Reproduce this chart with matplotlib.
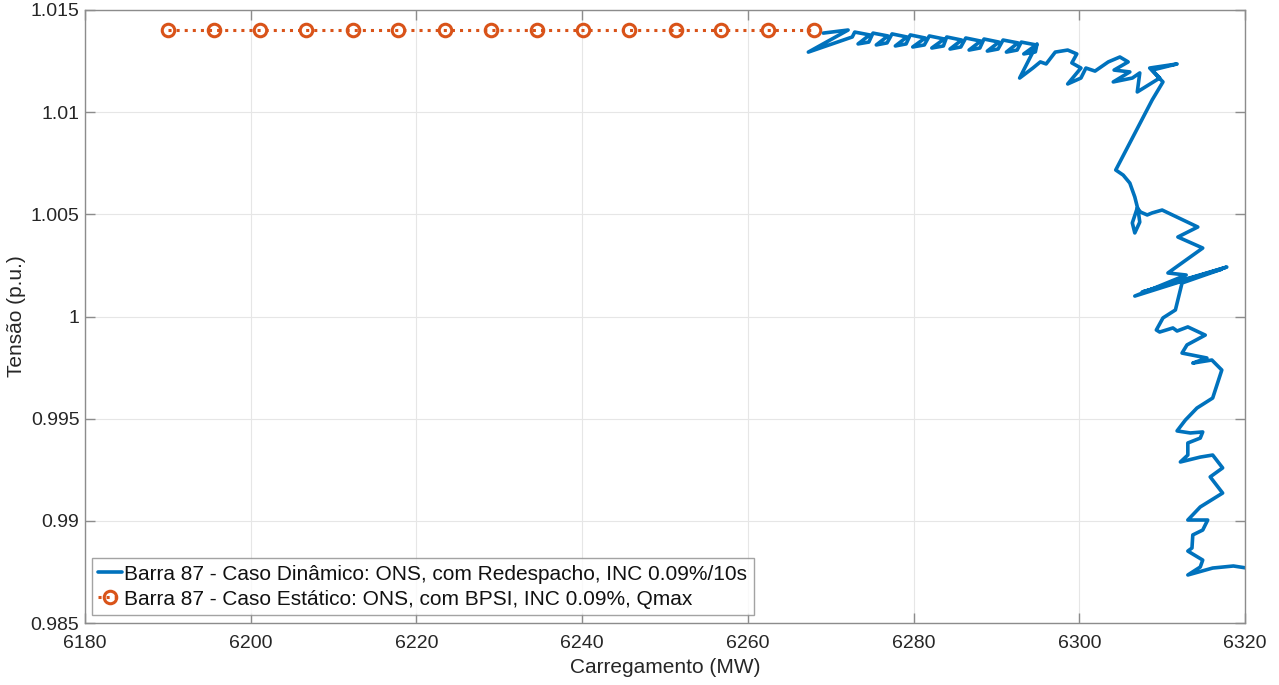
import matplotlib
matplotlib.use("Agg")
import matplotlib.pyplot as plt
from matplotlib.ticker import FuncFormatter

plt.rcParams['font.family'] = ['Liberation Sans', 'DejaVu Sans']

# Static case (continuation power flow): load steps and bus voltage
static_load = [6190.0, 6195.6, 6201.1, 6206.7, 6212.3, 6217.8, 6223.4, 6229.0,
               6234.6, 6240.1, 6245.7, 6251.3, 6256.8, 6262.4, 6268.0]
static_volt = [1.014] * 15

# Dynamic case (time simulation with redispatch): load vs. bus voltage trajectory
dyn_load = [
    6269.1, 6272.1, 6267.3, 6272.6,
    6272.9, 6274.7, 6273.3, 6274.6,
    6275.1, 6276.9, 6275.5, 6276.8,
    6277.4, 6279.2, 6277.8, 6279.1,
    6279.6, 6281.4, 6279.9, 6281.3,
    6281.9, 6283.7, 6282.2, 6283.6,
    6284.0, 6285.8, 6284.4, 6285.7,
    6286.3, 6288.1, 6286.7, 6288.0,
    6288.5, 6290.3, 6288.9, 6290.2,
    6290.8, 6292.6, 6291.2, 6292.5,
    6293.0, 6294.8, 6293.3, 6294.7,
    6294.9, 6292.8, 6294.4, 6295.3, 6296.0, 6297.1, 6298.6, 6299.7,
    6299.1, 6300.2, 6298.6, 6300.2, 6300.8, 6301.9, 6303.5, 6304.9,
    6305.9, 6304.2, 6306.1, 6304.1, 6306.4, 6307.3, 6307.0, 6309.7,
    6308.8, 6311.8, 6308.5, 6310.1, 6308.8, 6304.4,
    6305.3, 6306.1, 6306.7, 6307.1, 6307.3, 6306.7, 6306.4, 6307.0,
    6307.4, 6308.2, 6308.8, 6310.0, 6314.3, 6311.9, 6314.9, 6310.7,
    6312.9, 6306.7, 6317.8, 6307.6, 6317.2, 6312.4, 6311.6, 6310.1,
    6309.3, 6309.7, 6311.3, 6311.8, 6313.1, 6315.2, 6313.0, 6312.4,
    6315.4, 6313.7, 6316.0, 6317.2, 6316.1, 6314.2, 6312.8, 6311.8,
    6313.4, 6314.9, 6314.6, 6313.1, 6313.1, 6312.2, 6314.6, 6316.1,
    6317.3, 6315.8, 6317.3, 6314.6, 6313.1, 6315.5, 6314.9, 6313.7,
    6313.6, 6313.1, 6314.9, 6314.6, 6313.1, 6316.1, 6318.6, 6320.2,
]
dyn_volt = [
    1.01387, 1.01402, 1.01294, 1.01368,
    1.01392, 1.01378, 1.01334, 1.01343,
    1.01387, 1.01373, 1.01329, 1.01339,
    1.01383, 1.01368, 1.01324, 1.01334,
    1.01378, 1.01363, 1.01319, 1.01329,
    1.01373, 1.01358, 1.01314, 1.01324,
    1.01368, 1.01353, 1.01309, 1.01319,
    1.01363, 1.01348, 1.01304, 1.01314,
    1.01358, 1.01343, 1.01299, 1.01309,
    1.01353, 1.01339, 1.01294, 1.01304,
    1.01343, 1.01329, 1.01285, 1.01295,
    1.01334, 1.01167, 1.01216, 1.01246, 1.01236, 1.01294, 1.01304, 1.01285,
    1.01241, 1.01216, 1.01138, 1.01167, 1.01216, 1.01201, 1.01246, 1.01270,
    1.01246, 1.01206, 1.01197, 1.01148, 1.01167, 1.01192, 1.01099, 1.01167,
    1.01206, 1.01236, 1.01216, 1.01148, 1.01060, 1.00717,
    1.00692, 1.00653, 1.00585, 1.00521, 1.00462, 1.00409, 1.00458, 1.00531,
    1.00511, 1.00497, 1.00507, 1.00521, 1.00438, 1.00389, 1.00335, 1.00213,
    1.00203, 1.00100, 1.00242, 1.00120, 1.00232, 1.00164, 1.00032, 0.99993,
    0.99934, 0.99924, 0.99944, 0.99929, 0.99949, 0.99909, 0.99861, 0.99821,
    0.99797, 0.99772, 0.99787, 0.99738, 0.99601, 0.99552, 0.99493, 0.99440,
    0.99430, 0.99435, 0.99405, 0.99381, 0.99322, 0.99288, 0.99312, 0.99322,
    0.99259, 0.99215, 0.99136, 0.99068, 0.99004, 0.99004, 0.98955, 0.98931,
    0.98867, 0.98852, 0.98808, 0.98774, 0.98735, 0.98769, 0.98779, 0.98769,
]

x_ticks = [6180, 6200, 6220, 6240, 6260, 6280, 6300, 6320]
y_ticks = [0.985, 0.99, 0.995, 1.0, 1.005, 1.01, 1.015]

blue = '#0072BD'
orange = '#D95319'
axis_grey = '#8c8c8c'
text_dark = '#262626'

fig = plt.figure(figsize=(12.79, 6.85), dpi=100)
ax = fig.add_axes([85 / 1279, 62 / 685, 1160 / 1279, 613 / 685])

ax.plot(dyn_load, dyn_volt, color=blue, lw=2.6, solid_joinstyle='round',
        solid_capstyle='round',
        label='Barra 87 - Caso Dinâmico: ONS, com Redespacho, INC 0.09%/10s')
ax.plot(static_load, static_volt, color=orange, lw=2.2, ls=':', marker='o',
        ms=9, mfc='none', mew=2.2,
        label='Barra 87 - Caso Estático: ONS, com BPSI, INC 0.09%, Qmax')

ax.set_xlim(6180, 6320)
ax.set_ylim(0.985, 1.015)
ax.set_xticks(x_ticks)
ax.set_yticks(y_ticks)
ax.yaxis.set_major_formatter(FuncFormatter(lambda v, p: f'{v:g}'))
ax.xaxis.set_major_formatter(FuncFormatter(lambda v, p: f'{v:g}'))

ax.grid(True, color='#e6e6e6', lw=0.8)
ax.set_axisbelow(True)
for s in ax.spines.values():
    s.set_color(axis_grey)
    s.set_linewidth(1.0)
ax.tick_params(direction='in', length=7, width=1.0, color=axis_grey,
               labelsize=14, labelcolor=text_dark, top=True, right=True)
ax.tick_params(axis='x', pad=9)
ax.tick_params(axis='y', pad=4)

ax.set_xlabel('Carregamento (MW)', fontsize=15, color=text_dark, labelpad=4)
ax.set_ylabel('Tensão (p.u.)', fontsize=15, color=text_dark, labelpad=3)

leg = ax.legend(loc='lower left', bbox_to_anchor=(0.006, 0.013), fontsize=15,
                frameon=True, fancybox=False, handlelength=1.15, handletextpad=0.1,
                borderpad=0.3, labelspacing=0.3, borderaxespad=0.0)
leg.get_frame().set_edgecolor(axis_grey)
leg.get_frame().set_linewidth(1.0)
for t in leg.get_texts():
    t.set_color('#111111')

fig.savefig('out.png', dpi=100)
